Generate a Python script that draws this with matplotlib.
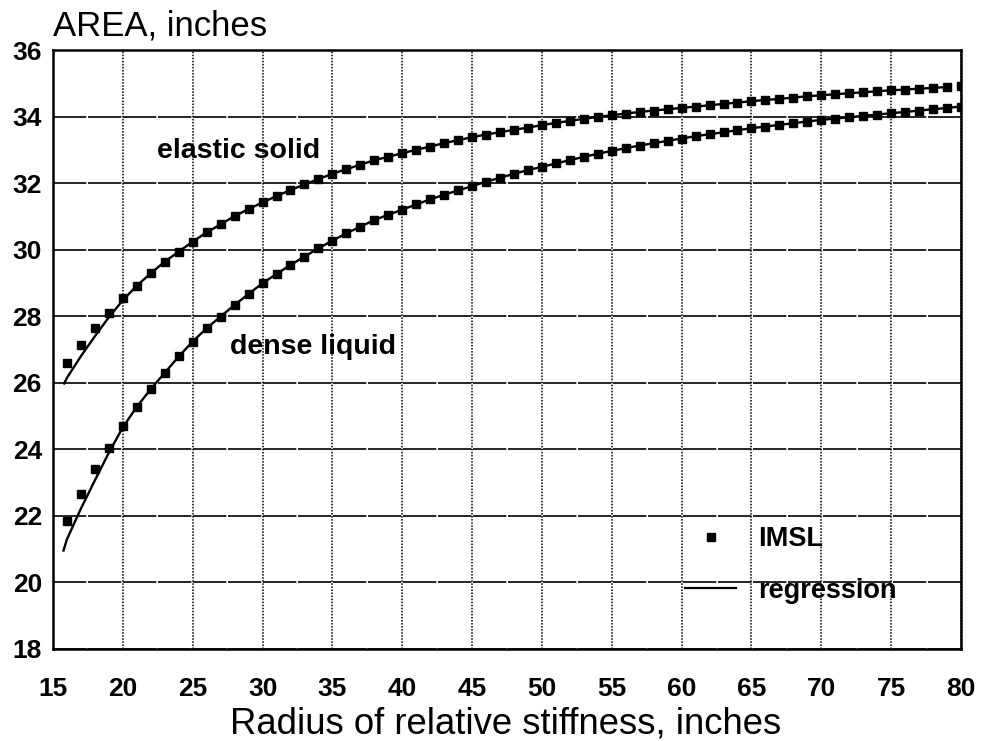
import numpy as np
import matplotlib
matplotlib.use("Agg")
import matplotlib.pyplot as plt
from matplotlib.lines import Line2D

plt.rcParams['font.family'] = ['Liberation Sans', 'DejaVu Sans']

# ---- data ----
radius = np.arange(16, 81)  # IMSL evaluation points, inches

elastic_imsl = [26.60, 27.15, 27.65, 28.11, 28.55, 28.92, 29.29, 29.64, 29.94, 30.24,
                30.52, 30.76, 31.01, 31.22, 31.42, 31.61, 31.79, 31.96, 32.12, 32.28,
                32.42, 32.55, 32.69, 32.79, 32.90, 33.00, 33.10, 33.20, 33.29, 33.38,
                33.46, 33.53, 33.60, 33.67, 33.74, 33.81, 33.87, 33.93, 33.99, 34.04,
                34.09, 34.14, 34.18, 34.22, 34.26, 34.30, 34.34, 34.38, 34.42, 34.46,
                34.50, 34.53, 34.57, 34.61, 34.64, 34.67, 34.70, 34.73, 34.76, 34.79,
                34.81, 34.84, 34.86, 34.89, 34.91]

dense_imsl = [21.85, 22.65, 23.40, 24.05, 24.69, 25.28, 25.81, 26.30, 26.79, 27.24,
              27.64, 27.99, 28.34, 28.67, 28.99, 29.27, 29.54, 29.79, 30.04, 30.27,
              30.49, 30.69, 30.89, 31.05, 31.20, 31.36, 31.51, 31.65, 31.78, 31.91,
              32.04, 32.16, 32.28, 32.39, 32.49, 32.59, 32.69, 32.79, 32.88, 32.97,
              33.05, 33.13, 33.20, 33.27, 33.34, 33.41, 33.47, 33.53, 33.59, 33.65,
              33.70, 33.75, 33.80, 33.85, 33.90, 33.94, 33.98, 34.02, 34.06, 34.10,
              34.14, 34.18, 34.22, 34.26, 34.30]

# regression curves: where they depart from the IMSL points (low radius)
elastic_reg_start_x = [15.8, 16, 17, 18, 19, 20]
elastic_reg_start_y = [25.98, 26.15, 26.80, 27.40, 27.97, 28.48]
dense_reg_start_x = [15.75, 16, 17, 18, 19, 20]
dense_reg_start_y = [20.96, 21.30, 22.22, 23.07, 23.90, 24.66]
# beyond these, the regression lines run through the IMSL points
elastic_reg_end = 79
dense_reg_end = 80

x_ticks = list(range(15, 81, 5))
y_ticks = list(range(18, 37, 2))

title_text = "AREA, inches"
xlabel_text = "Radius of relative stiffness, inches"
curve_labels = ["elastic solid", "dense liquid"]
legend_labels = ["IMSL", "regression"]

# ---- build regression arrays ----
r = list(radius)
el_reg_x = elastic_reg_start_x + r[r.index(21):r.index(elastic_reg_end) + 1]
el_reg_y = elastic_reg_start_y + elastic_imsl[r.index(21):r.index(elastic_reg_end) + 1]
de_reg_x = dense_reg_start_x + r[r.index(21):r.index(dense_reg_end) + 1]
de_reg_y = dense_reg_start_y + dense_imsl[r.index(21):r.index(dense_reg_end) + 1]

# ---- figure ----
fig = plt.figure(figsize=(9.84, 7.41), dpi=100)
ax = fig.add_axes([53 / 984, 1 - 649 / 741, 908 / 984, 599 / 741])

ax.set_xlim(15, 80)
ax.set_ylim(18, 36)
ax.set_xticks(x_ticks)
ax.set_yticks(y_ticks)
ax.set_axisbelow(True)
ax.xaxis.grid(True, color='black', linestyle=(0, (1, 1)), linewidth=1.1)
ax.yaxis.grid(True, color='black', linestyle=(0, (20, 1)), linewidth=1.2)
ax.tick_params(length=0, labelsize=19)
ax.tick_params(axis='x', pad=20)
ax.tick_params(axis='y', pad=8)
for lab in ax.get_xticklabels() + ax.get_yticklabels():
    lab.set_fontweight('bold')
for sp in ax.spines.values():
    sp.set_linewidth(1.8)
    sp.set_color('black')

ax.plot(el_reg_x, el_reg_y, color='black', lw=1.7, zorder=3)
ax.plot(de_reg_x, de_reg_y, color='black', lw=1.7, zorder=3)
ax.plot(radius, elastic_imsl, 's', color='black', ms=5.8, zorder=4)
ax.plot(radius, dense_imsl, 's', color='black', ms=5.8, zorder=4)

ax.text(22.45, 32.75, curve_labels[0], fontsize=20.5, fontweight='bold', va='baseline', ha='left')
ax.text(27.7, 26.87, curve_labels[1], fontsize=20.5, fontweight='bold', va='baseline', ha='left')

handles = [Line2D([], [], marker='s', ls='none', color='black', ms=5.8),
           Line2D([], [], color='black', lw=1.6)]
fs_leg = 19.5
ax.legend(handles, legend_labels, loc='upper left', bbox_to_anchor=(0.696, 0.205),
          frameon=False, prop={'size': fs_leg, 'weight': 'bold'}, handlelength=1.9,
          handletextpad=0.8, labelspacing=0.95, borderpad=0, borderaxespad=0,
          numpoints=1)

fig.text(53 / 984, 1 - 36 / 741, title_text, fontsize=25, va='baseline', ha='left')
fig.text(506 / 984, 1 - 733 / 741, xlabel_text, fontsize=26.3, va='baseline', ha='center')

fig.savefig("out.png", dpi=100, facecolor='white')
